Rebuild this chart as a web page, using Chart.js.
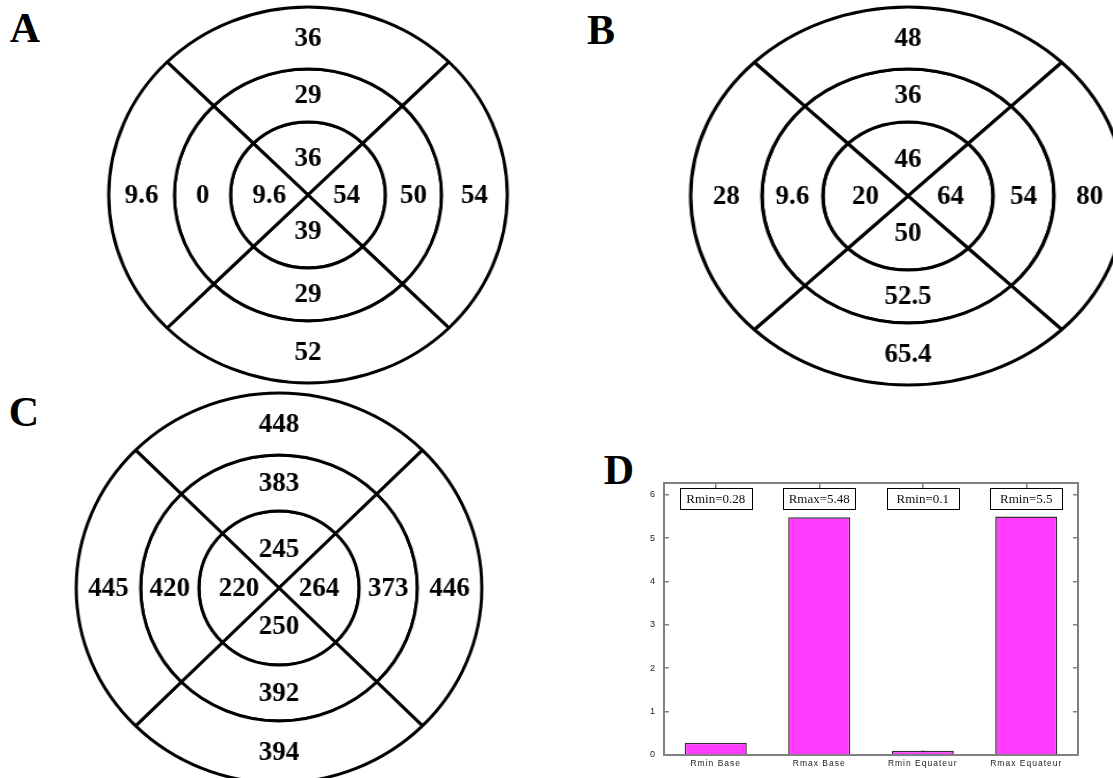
<!DOCTYPE html>
<html><head><meta charset="utf-8">
<script src="https://cdn.jsdelivr.net/npm/chart.js@4.4.0/dist/chart.umd.min.js"></script>
<style>
html,body{margin:0;padding:0;background:#fff;width:1113px;height:778px;overflow:hidden;position:relative;}
.panel{position:absolute;transform-origin:50% 50%;}
.letter{position:absolute;font:bold 42px "Liberation Serif","Times New Roman",serif;line-height:42px;width:50px;text-align:center;color:#000;}
</style></head><body>
<div class="letter" style="left:0;top:7px">A</div>
<div class="letter" style="left:576px;top:9px">B</div>
<div class="letter" style="left:-1px;top:391px">C</div>
<div class="letter" style="left:594px;top:449px">D</div>

<div class="panel" id="pA" style="left:108px;top:0px;width:400px;height:390px;transform:scaleX(1.06)"><canvas id="cA"></canvas></div>
<div class="panel" id="pB" style="left:708px;top:0px;width:400px;height:392px;transform:scaleX(1.15)"><canvas id="cB"></canvas></div>
<div class="panel" id="pC" style="left:69px;top:388px;width:420px;height:400px;transform:scaleX(1.04)"><canvas id="cC"></canvas></div>
<div class="panel" id="pD" style="left:630px;top:478px;width:470px;height:300px;"><canvas id="cD"></canvas></div>

<script>
// ---- Bull's-eye panels (segments clockwise: top, right, bottom, left) ----
const segmentOrder = ['top', 'right', 'bottom', 'left'];
const quarterShares = [1, 1, 1, 1];

const aOuter  = [36, 54, 52, 9.6];
const aMiddle = [29, 50, 29, 0];
const aInner  = [36, 54, 39, 9.6];

const bOuter  = [48, 80, 65.4, 28];
const bMiddle = [36, 54, 52.5, 9.6];
const bInner  = [46, 64, 50, 20];

const cOuter  = [448, 446, 394, 445];
const cMiddle = [383, 373, 392, 420];
const cInner  = [245, 264, 250, 220];

// ---- Bar panel D ----
const barCategories = ['Rmin Base', 'Rmax Base', 'Rmin Equateur', 'Rmax Equateur'];
const barValues = [0.28, 5.48, 0.1, 5.5];
const boxLabels = ['Rmin=0.28', 'Rmax=5.48', 'Rmin=0.1', 'Rmin=5.5'];
const yAxisMax = 6.27;
const yTickStep = 1;

Chart.defaults.devicePixelRatio = 1;

const ringLabelPlugin = {
  id: 'ringLabels',
  afterDatasetsDraw(chart, args, opts) {
    const ctx = chart.ctx;
    ctx.save();
    ctx.font = 'bold 27px "Liberation Serif", "Times New Roman", serif';
    ctx.fillStyle = '#000';
    ctx.textAlign = 'center';
    ctx.textBaseline = 'middle';
    chart.data.datasets.forEach((ds, di) => {
      const meta = chart.getDatasetMeta(di);
      meta.data.forEach((arc, i) => {
        const p = arc.tooltipPosition();
        ctx.save();
        ctx.translate(p.x, p.y);
        ctx.scale(1 / opts.stretch, 1);
        ctx.fillText(ds.valueLabels[i], 0, 1);
        ctx.restore();
      });
    });
    ctx.restore();
  }
};

function makeBullseye(id, rings, radius, weights, stretch) {
  new Chart(document.getElementById(id), {
    type: 'doughnut',
    data: {
      labels: segmentOrder,
      datasets: rings.map((vals, k) => ({
        data: quarterShares.slice(),
        valueLabels: vals.map(String),
        weight: weights[k],
        backgroundColor: '#ffffff',
        borderColor: '#000000',
        borderWidth: 3
      }))
    },
    options: {
      responsive: true,
      maintainAspectRatio: false,
      animation: false,
      events: [],
      cutout: 0,
      radius: radius,
      rotation: -45,
      layout: { padding: 0 },
      plugins: {
        legend: { display: false },
        tooltip: { enabled: false },
        ringLabels: { stretch: stretch }
      }
    },
    plugins: [ringLabelPlugin]
  });
}

makeBullseye('cA', [aOuter, aMiddle, aInner], 188, [62, 53, 73], 1.06);
makeBullseye('cB', [bOuter, bMiddle, bInner], 189, [62, 53, 74], 1.15);
makeBullseye('cC', [cOuter, cMiddle, cInner], 195, [62, 56, 77], 1.04);

// ---- D ----
const axisGray = '#808080';
const boxPlugin = {
  id: 'boxLabels',
  beforeDraw(chart) { chart.ctx.letterSpacing = '1px'; },
  afterDatasetsDraw(chart) {
    const ctx = chart.ctx;
    const xs = chart.scales.x;
    const top = chart.chartArea.top;
    ctx.save();
    ctx.letterSpacing = '0px';
    ctx.font = '13px "Liberation Serif", "Times New Roman", serif';
    ctx.textAlign = 'center';
    ctx.textBaseline = 'middle';
    boxLabels.forEach((t, i) => {
      const cx = xs.getPixelForValue(i);
      const w = 72, h = 21, cy = top + 15.5;
      ctx.fillStyle = '#fff';
      ctx.fillRect(cx - w / 2, cy - h / 2, w, h);
      ctx.strokeStyle = '#000';
      ctx.lineWidth = 1;
      ctx.strokeRect(Math.round(cx - w / 2) + 0.5, Math.round(cy - h / 2) + 0.5, w, h);
      ctx.fillStyle = '#111';
      ctx.fillText(t, cx, cy + 1);
    });
    ctx.restore();
  }
};

const tickFont = { family: '"Liberation Sans", Arial, sans-serif', size: 9 };
function noPad(s) { s.paddingTop = 0; s.paddingBottom = 0; s.paddingLeft = 0; s.paddingRight = 0; }
new Chart(document.getElementById('cD'), {
  type: 'bar',
  data: {
    labels: barCategories,
    datasets: [{
      data: barValues,
      backgroundColor: '#ff3cff',
      borderColor: '#333333',
      borderWidth: 1.5,
      categoryPercentage: 1,
      barPercentage: 0.6,
      xAxisID: 'x',
      yAxisID: 'y'
    }]
  },
  options: {
    responsive: true,
    maintainAspectRatio: false,
    animation: false,
    events: [],
    layout: { autoPadding: false, padding: { top: 5, right: 22, left: 0, bottom: 0 } },
    plugins: { legend: { display: false }, tooltip: { enabled: false } },
    scales: {
      x: {
        type: 'category', position: 'bottom', offset: true,
        grid: { drawOnChartArea: false, offset: false, tickLength: -5, color: axisGray, lineWidth: 1.5 },
        border: { display: true, color: axisGray, width: 2 },
        ticks: { padding: 9, font: { family: '"Liberation Sans", Arial, sans-serif', size: 8.5 }, color: '#222', maxRotation: 0, autoSkip: false },
        afterFit(s) { s.height = 23; noPad(s); }
      },
      x2: {
        type: 'category', position: 'top', offset: true, labels: barCategories,
        grid: { drawOnChartArea: false, offset: false, tickLength: -5, color: axisGray, lineWidth: 1.5 },
        border: { display: true, color: axisGray, width: 2 },
        ticks: { display: false },
        afterFit(s) { s.height = 0; noPad(s); }
      },
      y: {
        type: 'linear', position: 'left', min: 0, max: yAxisMax,
        ticks: { stepSize: yTickStep, includeBounds: false, padding: 13, font: tickFont, color: '#222' },
        grid: { drawOnChartArea: false, tickLength: -5, color: axisGray, lineWidth: 1.5 },
        border: { display: true, color: axisGray, width: 2 },
        afterFit(s) { s.width = 34; noPad(s); }
      },
      y2: {
        type: 'linear', position: 'right', min: 0, max: yAxisMax,
        ticks: { display: false, stepSize: yTickStep, includeBounds: false },
        grid: { drawOnChartArea: false, tickLength: -5, color: axisGray, lineWidth: 1.5 },
        border: { display: true, color: axisGray, width: 2 },
        afterFit(s) { s.width = 0; noPad(s); }
      }
    }
  },
  plugins: [boxPlugin]
});
</script>
</body></html>
